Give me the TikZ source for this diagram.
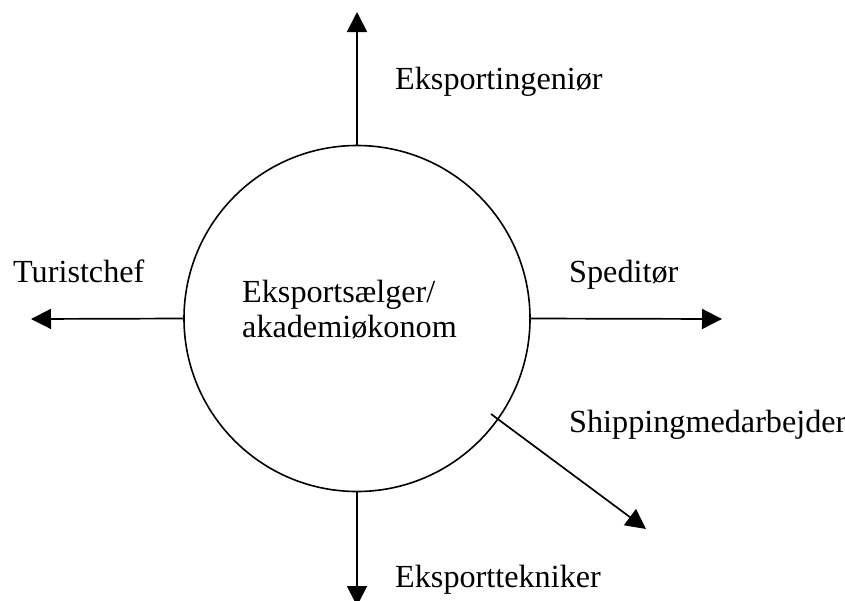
\documentclass[tikz,border=0pt]{standalone}
\usepackage{fontspec}
\setmainfont{Liberation Serif}
\usetikzlibrary{arrows.meta}
\begin{document}
\begin{tikzpicture}[x=1pt,y=-1pt,
  lbl/.style={anchor=base west,inner sep=0pt,font=\fontsize{32.2}{35}\selectfont},
  conn/.style={line width=1.7pt,-{Triangle[length=20pt,width=20pt]}},
  hub/.style={circle,draw,line width=1.6pt,minimum size=346pt,inner sep=0pt}]
\useasboundingbox (0,0) rectangle (845,600);
\node[hub] (c) at (357,318.5) {};
\node[lbl,align=left] (ct) at (242,337) {Eksportsælger/\\akademiøkonom};
\coordinate (top) at (357,12);
\coordinate (bot) at (357,606);
\coordinate (lft) at (31,319);
\coordinate (rgt) at (722,319);
\coordinate (d0) at (491,414);
\coordinate (d1) at (646,529);
\draw[conn] (c.north) -- (top);
\draw[conn] (c.south) -- (bot);
\draw[conn] (c.west) -- (lft);
\draw[conn] (c.east) -- (rgt);
\draw[conn] (d0) -- (d1);
\node[lbl] (l1) at (395,89) {Eksportingeniør};
\node[lbl] (l2) at (13,282) {Turistchef};
\node[lbl] (l3) at (569,282) {Speditør};
\node[lbl] (l4) at (569,432) {Shippingmedarbejder};
\node[lbl] (l5) at (395,587) {Eksporttekniker};
\end{tikzpicture}
\end{document}
